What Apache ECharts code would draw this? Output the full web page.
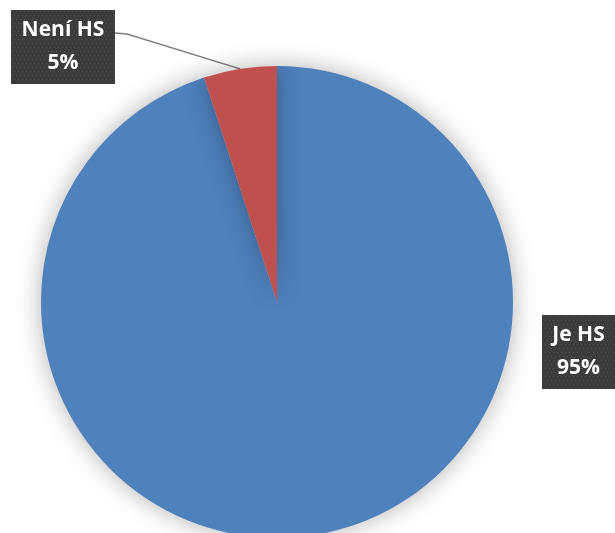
<!DOCTYPE html>
<html>
<head>
<meta charset="utf-8">
<script src="https://cdn.jsdelivr.net/npm/echarts@6/dist/echarts.min.js"></script>
<style>
html,body{margin:0;padding:0;background:#fff;}
#chart{width:615px;height:533px;}
</style>
</head>
<body>
<div id="chart"></div>
<script>
// Data
const categories = ['Je HS', 'Není HS'];
const values = [95, 5];
const colors = ['#4F81BD', '#C0504D'];

function makePattern(w, h) {
  const c = document.createElement('canvas');
  c.width = w; c.height = h;
  const ctx = c.getContext('2d');
  ctx.fillStyle = '#3b3b3b';
  ctx.fillRect(0, 0, w, h);
  ctx.fillStyle = '#555555';
  for (let y = 1; y < h; y += 4) {
    for (let x = ((y - 1) / 4) % 2 ? 3 : 1; x < w; x += 4) {
      ctx.fillRect(x, y, 1, 1);
    }
  }
  return c;
}

// label box geometry (layout only)
const boxes = [
  { cx: 578.5, top: 315, contentW: 55 },   // Je HS
  { cx: 63, top: 10, contentW: 86 }        // Není HS
];
const padX = 9;

const labelBase = {
  show: true,
  formatter: '{b}\n{d}%',
  color: '#ffffff',
  fontFamily: 'Open Sans',
  fontWeight: 'bold',
  fontSize: 21,
  lineHeight: 33,
  align: 'center',
  padding: [4, padX],
  shadowColor: 'rgba(0,0,0,0.45)',
  shadowBlur: 4,
  shadowOffsetX: 2,
  shadowOffsetY: 3
};

const data = categories.map((name, i) => ({
  name: name,
  value: values[i],
  itemStyle: { color: colors[i] },
  label: Object.assign({}, labelBase, {
    width: boxes[i].contentW,
    backgroundColor: { image: makePattern(boxes[i].contentW + 2 * padX, 74) }
  }),
  labelLine: { show: i === 1 }
}));

const chart = echarts.init(document.getElementById('chart'), null, { renderer: 'canvas' });
chart.setOption({
  animation: false,
  backgroundColor: '#ffffff',
  series: [{
    type: 'pie',
    center: [277, 302],
    radius: 236,
    startAngle: 90,
    clockwise: true,
    avoidLabelOverlap: false,
    itemStyle: {
      borderWidth: 0,
      shadowColor: 'rgba(0,0,0,0.3)',
      shadowBlur: 24
    },
    labelLine: {
      lineStyle: { color: '#7f7f7f', width: 1.5 },
      length: 20,
      length2: 20
    },
    emphasis: { disabled: true },
    data: data,
    labelLayout: function (params) {
      const b = boxes[params.dataIndex];
      const res = { x: b.cx, y: b.top, align: 'center', verticalAlign: 'top' };
      if (params.dataIndex === 1) {
        const right = b.cx + b.contentW / 2 + padX;
        const ly = b.top + 23;
        const p0 = params.labelLinePoints ? params.labelLinePoints[0] : [240, 69];
        res.labelLinePoints = [p0, [right + 12, ly + 1], [right, ly]];
      }
      return res;
    }
  }]
});
</script>
</body>
</html>
